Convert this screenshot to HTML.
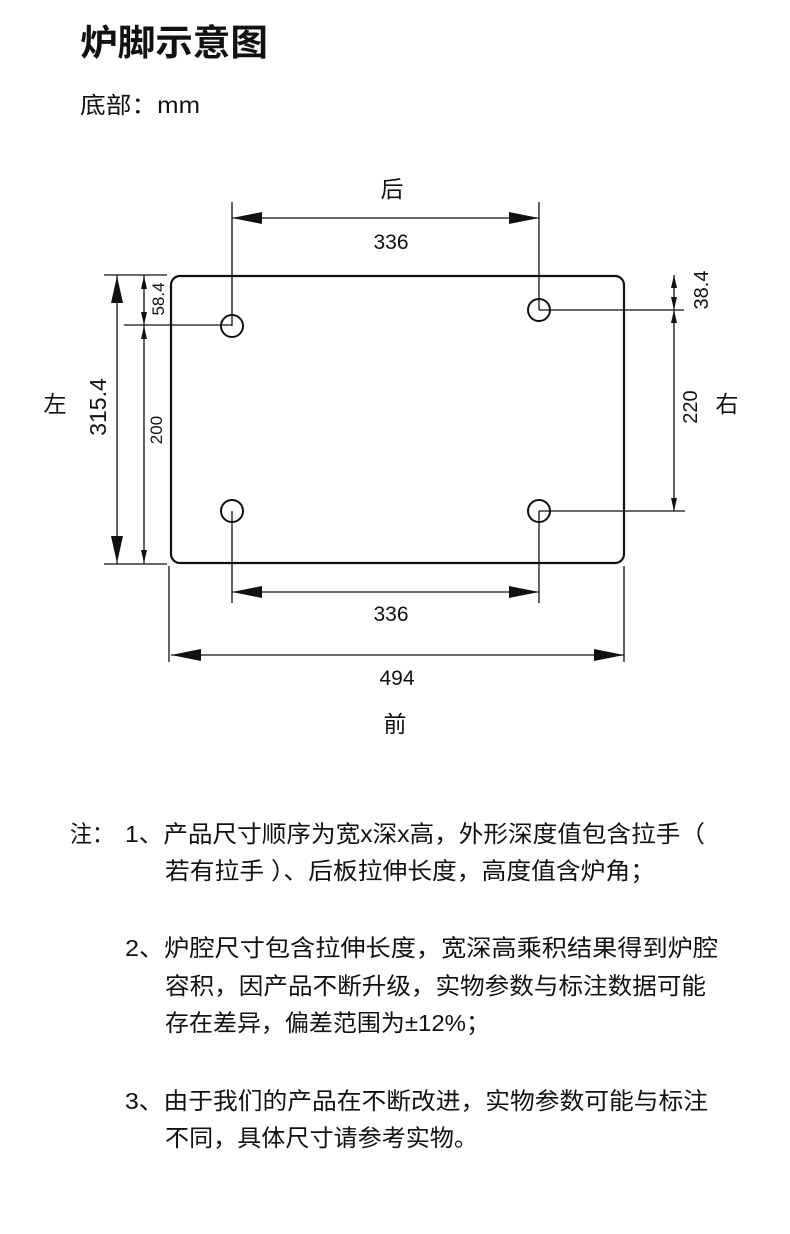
<!DOCTYPE html>
<html><head><meta charset="utf-8"><style>
html,body{margin:0;padding:0;background:#fff;width:790px;height:1234px;overflow:hidden}
svg{display:block}
text{font-family:"Liberation Sans","Noto Sans CJK SC",sans-serif;fill:#111}
</style></head><body>
<svg width="790" height="1234" viewBox="0 0 790 1234" xmlns="http://www.w3.org/2000/svg">
<text x="80" y="55" font-size="36" font-weight="bold" textLength="188" lengthAdjust="spacingAndGlyphs">炉脚示意图</text>
<text x="80" y="113" font-size="23" textLength="120" lengthAdjust="spacingAndGlyphs">底部：mm</text>
<g stroke="#111" fill="none">
<rect x="171" y="276" width="453" height="287" rx="9" stroke-width="2.2"/>
<circle cx="232" cy="326" r="11" stroke-width="2"/>
<circle cx="539" cy="310" r="11" stroke-width="2"/>
<circle cx="232" cy="511" r="11" stroke-width="2"/>
<circle cx="539" cy="511" r="11" stroke-width="2"/>
<g stroke-width="1.3">
<line x1="232" y1="202" x2="232" y2="326"/><line x1="539" y1="202" x2="539" y2="310"/>
<line x1="232" y1="218" x2="539" y2="218"/>
<line x1="104" y1="275" x2="167" y2="275"/><line x1="104" y1="564" x2="167" y2="564"/>
<line x1="117" y1="275" x2="117" y2="564"/>
<line x1="124" y1="325" x2="232" y2="325"/>
<line x1="144" y1="275" x2="144" y2="564"/>
<line x1="539" y1="310" x2="684" y2="310"/><line x1="539" y1="511" x2="685" y2="511"/>
<line x1="674" y1="275" x2="674" y2="511"/>
<line x1="232" y1="511" x2="232" y2="603"/><line x1="539" y1="511" x2="539" y2="603"/>
<line x1="232" y1="592" x2="539" y2="592"/>
<line x1="169" y1="566" x2="169" y2="662"/><line x1="624" y1="566" x2="624" y2="662"/>
<line x1="171" y1="655" x2="624" y2="655"/>
</g></g>
<g fill="#111">
<polygon points="232,218 262,212 262,224"/><polygon points="539,218 509,212 509,224"/>
<polygon points="232,592 262,586 262,598"/><polygon points="539,592 509,586 509,598"/>
<polygon points="171,655 201,649 201,661"/><polygon points="624,655 594,649 594,661"/>
<polygon points="117,276 111,303 123,303"/><polygon points="117,563 111,536 123,536"/>
<polygon points="144,276 141,289 147,289"/><polygon points="144,325 141,312 147,312"/>
<polygon points="144,326 141,339 147,339"/><polygon points="144,563 141,550 147,550"/>
<polygon points="674,275 671,288 677,288"/><polygon points="674,310 671,297 677,297"/>
<polygon points="674,310 671,323 677,323"/><polygon points="674,511 671,498 677,498"/>
</g>
<text x="392" y="197" font-size="23" text-anchor="middle">后</text>
<text x="391" y="249" font-size="21" text-anchor="middle">336</text>
<text x="391" y="621" font-size="21" text-anchor="middle">336</text>
<text x="397" y="685" font-size="21" text-anchor="middle">494</text>
<text x="395" y="732" font-size="23" text-anchor="middle">前</text>
<text x="55" y="412" font-size="23" text-anchor="middle">左</text>
<text x="727" y="412" font-size="23" text-anchor="middle">右</text>
<text transform="translate(106,407) rotate(-90)" font-size="23" text-anchor="middle">315.4</text>
<text transform="translate(162,430) rotate(-90)" font-size="17" text-anchor="middle">200</text>
<text transform="translate(164,299) rotate(-90)" font-size="17" text-anchor="middle">58.4</text>
<text transform="translate(708,290) rotate(-90)" font-size="20" text-anchor="middle">38.4</text>
<text transform="translate(697,407) rotate(-90)" font-size="20" text-anchor="middle">220</text>
<g font-size="23.5">
<text x="70" y="842" textLength="44" lengthAdjust="spacingAndGlyphs">注：</text>
<text x="125" y="842" textLength="580" lengthAdjust="spacingAndGlyphs">1、产品尺寸顺序为宽x深x高，外形深度值包含拉手（</text>
<text x="165" y="879" textLength="490" lengthAdjust="spacingAndGlyphs">若有拉手 ）、后板拉伸长度，高度值含炉角；</text>
<text x="125" y="956" textLength="593" lengthAdjust="spacingAndGlyphs">2、炉腔尺寸包含拉伸长度，宽深高乘积结果得到炉腔</text>
<text x="165" y="994" textLength="541" lengthAdjust="spacingAndGlyphs">容积，因产品不断升级，实物参数与标注数据可能</text>
<text x="165" y="1031" textLength="325" lengthAdjust="spacingAndGlyphs">存在差异，偏差范围为±12%；</text>
<text x="125" y="1109" textLength="583" lengthAdjust="spacingAndGlyphs">3、由于我们的产品在不断改进，实物参数可能与标注</text>
<text x="165" y="1146" textLength="313" lengthAdjust="spacingAndGlyphs">不同，具体尺寸请参考实物。</text>
</g>
</svg>
</body></html>
